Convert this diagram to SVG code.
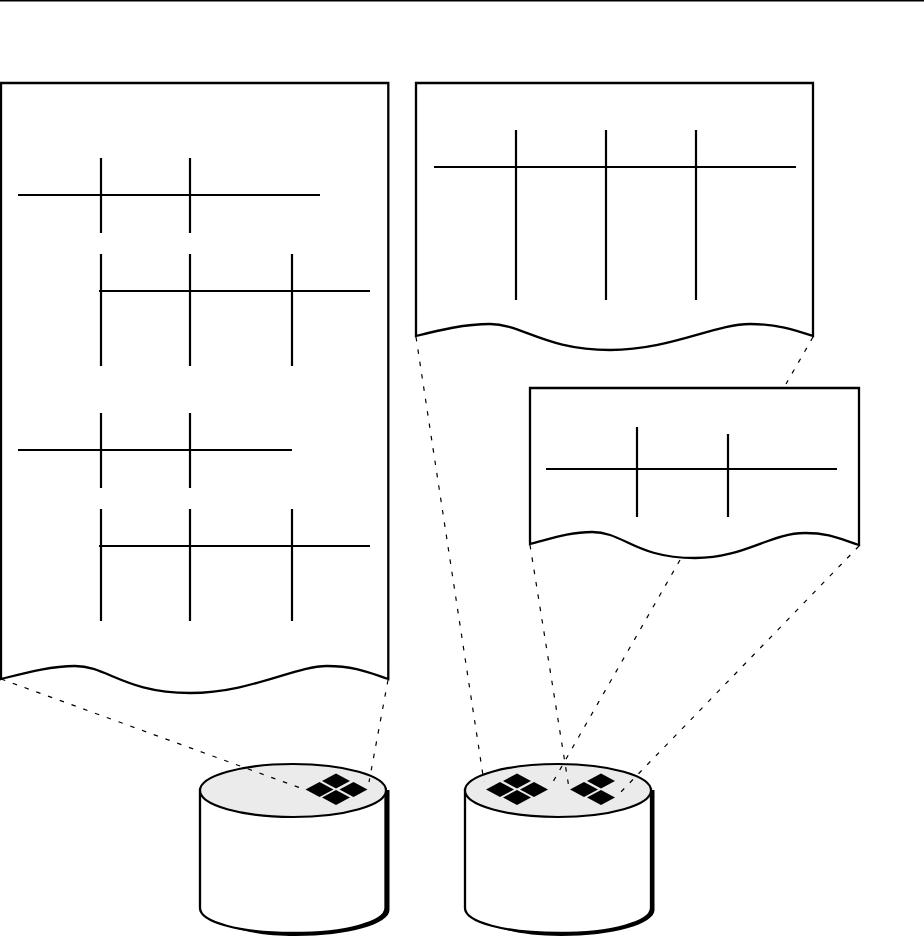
<svg xmlns="http://www.w3.org/2000/svg" width="924" height="937" viewBox="0 0 924 937">
<defs><style>
.s{fill:none;stroke:#000;stroke-width:2.200}
.p{fill:#fff;stroke:#000;stroke-width:2.300}
.d{fill:none;stroke:#000;stroke-width:1.200;stroke-dasharray:4.500 8}
.t{fill:#ebebeb;stroke:#000;stroke-width:2.200}
.k{fill:#000;stroke:none}
</style>
<path id="dm" d="M-14 0L0-7.500L14 0L0 7.500Z"/>
</defs>
<rect width="924" height="937" fill="#fff"/>
<path d="M0 0.750H924" stroke="#000" stroke-width="1.500" fill="none"/>
<g id="page-a">
<path class="p" d="M1 679V83H388.300V679C370 673 355 666 327 666C295 666 250 693 190 693C125 693 107 666 75 666C50 666 25 673 1 679Z"/>
<path class="s" d="M18 195H320M101 158V233M190 158V233M99 291H370M101 254V366M190 254V366M292 254V366M18 450H292M101 413V488M190 413V488M99 546H370M101 509V621M190 509V621M292 509V621"/>
</g>
<g id="page-b">
<path class="p" d="M416 336V83H813V336C795 330 778 324 750 324C715 324 670 350 610 350C545 350 522 324 490 324C465 324 440 330 416 336Z"/>
<path class="s" d="M434 167H796M516 130V300M606 130V300M696 130V300"/>
</g>
<g id="page-c">
<path class="p" d="M530 544V388H859V545C840 539 830 533 805 533C770 533 745 558 695 558C635 558 624 532 592 532C570 532 550 539 530 544Z"/>
<path class="s" d="M546 469H837M637 427V517M728 434V517"/>
</g>
<g id="cylinder-a">
<path class="k" d="M378 790H389.500V910C389.500 924 348 936 296 936C270 936 250 933 235 928L300 925L378 905Z"/>
<path class="p" d="M200 790V908C200 922 240 933 293 933C346 933 385.500 922 385.500 908V790Z"/>
<ellipse class="t" cx="293" cy="790.500" rx="93" ry="26.500"/>
<use href="#dm" x="336" y="781"/><use href="#dm" x="319.500" y="789.500"/><use href="#dm" x="353.500" y="789.500"/><use href="#dm" x="336" y="797.500"/>
</g>
<g id="cylinder-b">
<path class="k" d="M643 790H654.500V910C654.500 924 613 936 561 936C535 936 515 933 500 928L565 925L643 905Z"/>
<path class="p" d="M465 790V908C465 922 505 933 558.500 933C612 933 651 922 651 908V790Z"/>
<ellipse class="t" cx="558" cy="790.500" rx="93" ry="26.500"/>
<use href="#dm" x="517" y="781"/><use href="#dm" x="500" y="789.500"/><use href="#dm" x="534" y="789.500"/><use href="#dm" x="517" y="797.500"/>
<use href="#dm" x="601" y="781"/><use href="#dm" x="584" y="789.500"/><use href="#dm" x="601" y="797.500"/>
</g>
<g id="connectors">
<path class="d" d="M1 679L306 790"/>
<path class="d" d="M388 680L369 782"/>
<path class="d" d="M416 337L484 782"/>
<path class="d" d="M813 337L786 384"/>
<path class="d" d="M530 545L569 788"/>
<path class="d" d="M680 560L550 787"/>
<path class="d" d="M859 546L616 797"/>
</g>
</svg>
